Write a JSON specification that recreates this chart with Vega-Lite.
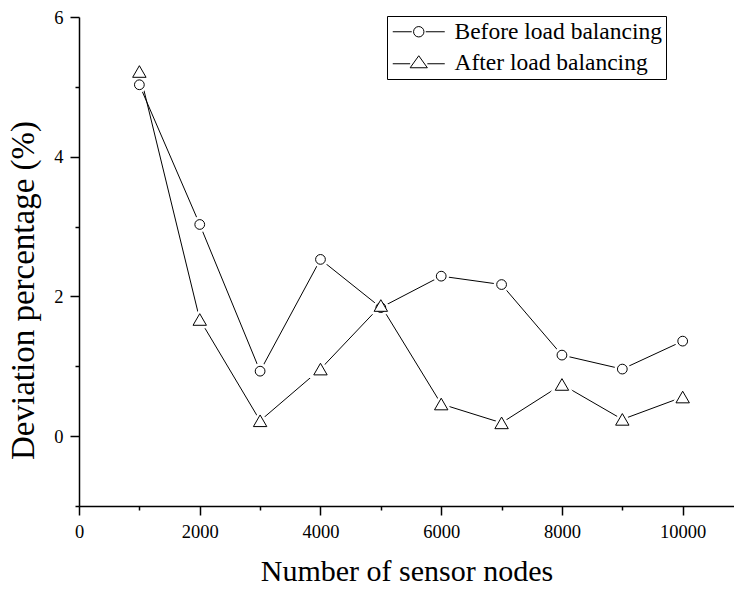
{
  "$schema": "https://vega.github.io/schema/vega-lite/v6.json",
  "width": 655,
  "height": 489,
  "autosize": "none",
  "padding": {"left": 79, "top": 17, "right": 0, "bottom": 83},
  "background": "white",
  "config": {
    "view": {"stroke": null},
    "font": "Liberation Serif",
    "axis": {
      "domainColor": "black",
      "domainWidth": 1.5,
      "tickColor": "black",
      "tickWidth": 1.5,
      "labelColor": "black",
      "titleFont": "Liberation Serif",
      "titleFontWeight": "normal",
      "titleColor": "black",
      "grid": false
    }
  },
  "data": {
    "values": [
      {"n": 1000, "series": "Before load balancing", "v": 5.03},
      {"n": 2000, "series": "Before load balancing", "v": 3.03},
      {"n": 3000, "series": "Before load balancing", "v": 0.93},
      {"n": 4000, "series": "Before load balancing", "v": 2.53},
      {"n": 5000, "series": "Before load balancing", "v": 1.84},
      {"n": 6000, "series": "Before load balancing", "v": 2.29},
      {"n": 7000, "series": "Before load balancing", "v": 2.17},
      {"n": 8000, "series": "Before load balancing", "v": 1.16},
      {"n": 9000, "series": "Before load balancing", "v": 0.96},
      {"n": 10000, "series": "Before load balancing", "v": 1.36},
      {"n": 1000, "series": "After load balancing", "v": 5.22},
      {"n": 2000, "series": "After load balancing", "v": 1.67},
      {"n": 3000, "series": "After load balancing", "v": 0.22},
      {"n": 4000, "series": "After load balancing", "v": 0.96},
      {"n": 5000, "series": "After load balancing", "v": 1.87},
      {"n": 6000, "series": "After load balancing", "v": 0.46},
      {"n": 7000, "series": "After load balancing", "v": 0.19},
      {"n": 8000, "series": "After load balancing", "v": 0.74},
      {"n": 9000, "series": "After load balancing", "v": 0.24},
      {"n": 10000, "series": "After load balancing", "v": 0.56}
    ]
  },
  "encoding": {
    "x": {
      "field": "n",
      "type": "quantitative",
      "scale": {"domain": [0, 10850], "nice": false, "zero": false},
      "axis": {
        "title": "Number of sensor nodes",
        "titleFontSize": 30,
        "values": [0, 1000, 2000, 3000, 4000, 5000, 6000, 7000, 8000, 9000, 10000],
        "format": "d",
        "labelExpr": "datum.value % 2000 === 0 ? datum.label : ''",
        "labelFont": "Liberation Serif",
        "labelFontSize": 18.5,
        "labelColor": "black",
        "tickSize": {"condition": {"test": "datum.value % 2000 === 0", "value": 9}, "value": 4},
        "labelPadding": 7,
        "labelFlush": false,
        "labelOverlap": false,
        "titleBaseline": "alphabetic",
        "titleY": 74
      }
    },
    "y": {
      "field": "v",
      "type": "quantitative",
      "scale": {"domain": [-1, 6], "nice": false, "zero": false},
      "axis": {
        "title": "Deviation percentage (%)",
        "titleFontSize": 33,
        "values": [-1, 0, 1, 2, 3, 4, 5, 6],
        "labelExpr": "datum.value % 2 === 0 ? datum.label : ''",
        "labelFont": "Liberation Serif",
        "labelFontSize": 18.5,
        "labelColor": "black",
        "tickSize": {"condition": {"test": "datum.value % 2 === 0", "value": 9}, "value": 4},
        "labelPadding": 7,
        "labelFlush": false,
        "labelOverlap": false,
        "titleAngle": -90,
        "titleAlign": "center",
        "titleBaseline": "alphabetic",
        "titleX": -46,
        "titleY": 273
      }
    }
  },
  "layer": [
    {
      "mark": {"type": "line", "color": "black", "strokeWidth": 1},
      "encoding": {"detail": {"field": "series"}}
    },
    {
      "transform": [{"filter": "datum.n < 0"}],
      "mark": {"type": "point", "size": 400, "filled": false, "stroke": "black", "strokeWidth": 1, "opacity": 1},
      "encoding": {
        "shape": {
          "field": "series",
          "scale": {
            "domain": ["Before load balancing", "After load balancing"],
            "range": [
              "M-1,0H0.9M2.3,0H4.2M2.12,0A0.52,0.52 0 1,1 1.08,0A0.52,0.52 0 1,1 2.12,0Z",
              "M-1,0.1H0.74M2.46,0.1H4.2M0.74,0.5L1.6,-0.7L2.46,0.5Z"
            ]
          },
          "legend": {
            "title": null,
            "orient": "none",
            "legendX": 308,
            "legendY": -1,
            "values": ["Before load balancing", "After load balancing"],
            "strokeColor": "black",
            "padding": 4,
            "rowPadding": 6,
            "symbolSize": 400,
            "symbolStrokeWidth": 1,
            "symbolStrokeColor": "black",
            "symbolFillColor": "white",
            "symbolOpacity": 1,
            "labelFont": "Liberation Serif",
            "labelFontSize": 23.5,
            "labelColor": "black",
            "labelOffset": 40,
            "labelLimit": 400,
            "fillColor": "white"
          }
        }
      }
    },
    {
      "transform": [{"filter": "datum.series === 'Before load balancing'"}],
      "mark": {"type": "point", "shape": "circle", "size": 95, "filled": true, "fill": "white", "stroke": "white", "strokeWidth": 6, "opacity": 1}
    },
    {
      "transform": [{"filter": "datum.series === 'After load balancing'"}],
      "mark": {"type": "point", "shape": "triangle-up", "size": 180, "filled": true, "fill": "white", "stroke": "white", "strokeWidth": 6, "opacity": 1}
    },
    {
      "transform": [{"filter": "datum.series === 'Before load balancing'"}],
      "mark": {"type": "point", "shape": "circle", "size": 95, "filled": false, "fill": "white", "fillOpacity": 1, "stroke": "black", "strokeWidth": 1, "opacity": 1}
    },
    {
      "transform": [{"filter": "datum.series === 'After load balancing'"}],
      "mark": {"type": "point", "shape": "triangle-up", "size": 180, "filled": false, "fill": "white", "fillOpacity": 1, "stroke": "black", "strokeWidth": 1, "opacity": 1}
    }
  ]
}
